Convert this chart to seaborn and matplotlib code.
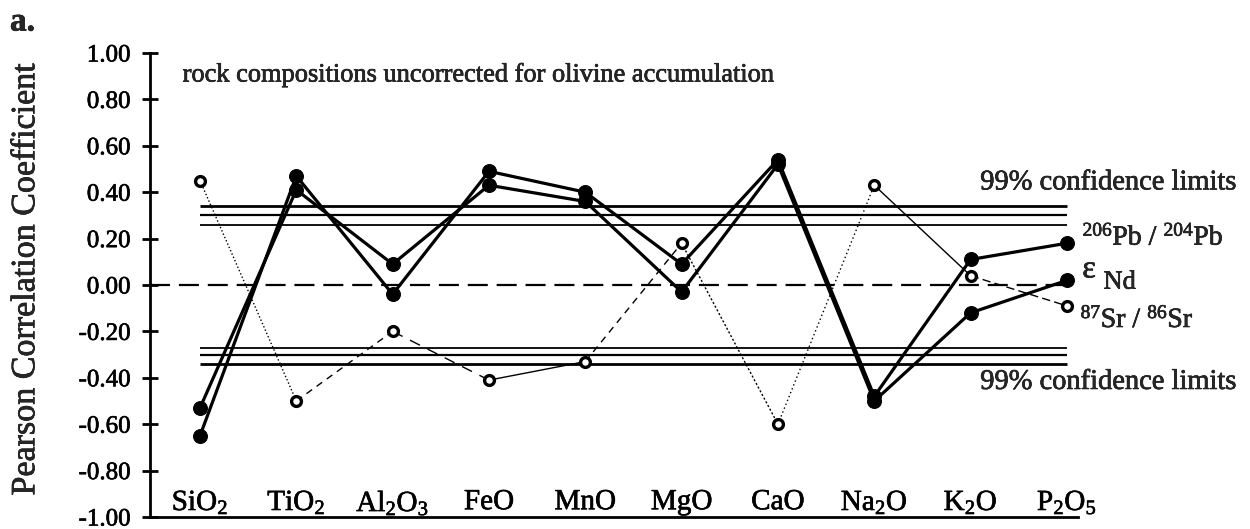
import matplotlib
matplotlib.use("Agg")
import matplotlib.pyplot as plt
import matplotlib.patheffects as pe
import seaborn as sns
import numpy as np

# Oxide categories along the x axis
oxides = ["SiO$_2$", "TiO$_2$", "Al$_2$O$_3$", "FeO", "MnO",
          "MgO", "CaO", "Na$_2$O", "K$_2$O", "P$_2$O$_5$"]

# Pearson correlation coefficients of each isotope ratio with the oxides
pb206_204 = [-0.65, 0.47, -0.04, 0.49, 0.40, 0.09, 0.54, -0.48, 0.11, 0.18]
eps_nd = [-0.53, 0.41, 0.09, 0.43, 0.36, -0.03, 0.52, -0.50, -0.12, 0.02]
sr87_86 = [0.45, -0.50, -0.20, -0.41, -0.33, 0.18, -0.60, 0.43, 0.04, -0.09]

# 99% confidence limits (three sample sizes)
conf_upper = [0.34, 0.30, 0.26]
conf_lower = [-0.27, -0.30, -0.34]

y_ticks = [1.0, 0.8, 0.6, 0.4, 0.2, 0.0, -0.2, -0.4, -0.6, -0.8, -1.0]

sns.set_theme(style="white")
plt.rcParams["font.family"] = ["Liberation Serif", "DejaVu Serif"]
plt.rcParams["mathtext.fontset"] = "custom"
plt.rcParams["mathtext.rm"] = "Liberation Serif"
plt.rcParams["mathtext.default"] = "regular"
plt.rcParams["axes.unicode_minus"] = False

# slightly heavier text strokes for a printed look
heavy = [pe.withStroke(linewidth=0.45, foreground="black")]

W, H = 1250, 529
fig = plt.figure(figsize=(W / 100, H / 100), dpi=100)
ax = fig.add_axes([150 / W, 1 - 517 / H, (1078 - 150) / W, (517 - 53) / H])

xpos = np.arange(len(oxides))
x_lo, x_hi = -0.519, 9.115
ax.set_xlim(x_lo, x_hi)
ax.set_ylim(-1.0, 1.0)

# confidence bands
for y, lw in zip(conf_upper, [2.0, 1.6, 1.3]):
    ax.hlines(y, xpos[0], xpos[-1], color="black", lw=lw, zorder=1)
for y, lw in zip(conf_lower, [1.3, 1.6, 2.0]):
    ax.hlines(y, xpos[0], xpos[-1], color="black", lw=lw, zorder=1)

# zero line
ax.axhline(0, xmin=0, xmax=(xpos[-1] - x_lo) / (x_hi - x_lo),
           color="black", lw=1.6, dashes=(9, 4), zorder=1)

# 87Sr/86Sr: thin segments drawn in mixed line styles
seg_styles = [(0, (1, 1.6)), (0, (5, 4)), (0, (8, 6)), "-", (0, (5, 4)),
              (0, (1.5, 1.5)), (0, (1, 2)), "-", (0, (6, 3))]
for i, ls in enumerate(seg_styles):
    ax.plot(xpos[i:i + 2], sr87_86[i:i + 2], color="black", lw=1.0,
            linestyle=ls, zorder=2)
sns.scatterplot(x=xpos, y=sr87_86, ax=ax, marker="o", s=50,
                facecolor="white", edgecolor="black", linewidth=2.4, zorder=5)

# 206Pb/204Pb and eNd: filled markers, heavy lines
for series in (pb206_204, eps_nd):
    sns.lineplot(x=xpos, y=series, ax=ax, sort=False, color="black",
                 linewidth=2.3, marker="o", markersize=10,
                 markeredgecolor="black", markerfacecolor="black", zorder=4)

# axes styling
for side in ("top", "right"):
    ax.spines[side].set_visible(False)
for side in ("left", "bottom"):
    ax.spines[side].set_linewidth(2.0)
    ax.spines[side].set_color("black")

ax.set_yticks(y_ticks)
ax.set_yticklabels([f"{v:.2f}" for v in y_ticks])
ax.tick_params(axis="y", direction="inout", length=12, width=2.0,
               pad=8, labelsize=18, colors="black", left=True)
ax.set_xticks(xpos)
ax.set_xticklabels(oxides)
ax.tick_params(axis="x", length=0, pad=-20, labelsize=21, colors="black")
for lab in ax.get_xticklabels() + ax.get_yticklabels():
    lab.set_path_effects(heavy)
ax.set_ylabel("")
ax.set_xlabel("")

# annotations
texts = [
    ax.text(-0.18, 0.905, "rock compositions uncorrected for olivine accumulation",
            fontsize=19, va="center", ha="left"),
    ax.text(8.10, 0.44, "99% confidence limits", fontsize=20.5,
            va="center", ha="left"),
    ax.text(8.10, -0.42, "99% confidence limits", fontsize=20.5,
            va="center", ha="left"),
    ax.text(xpos[-1] + 0.16, pb206_204[-1] + 0.025, "$^{206}$Pb / $^{204}$Pb",
            fontsize=20, va="center", ha="left"),
    ax.text(xpos[-1] + 0.16, eps_nd[-1] + 0.045, "\u03b5", fontsize=23,
            va="center", ha="left"),
    ax.text(xpos[-1] + 0.38, eps_nd[-1] - 0.01, "Nd", fontsize=19,
            va="center", ha="left"),
    ax.text(xpos[-1] + 0.14, sr87_86[-1] - 0.06, "$^{87}$Sr / $^{86}$Sr",
            fontsize=20, va="center", ha="left"),
    fig.text(10 / W, 1 - 22 / H, "a.", fontsize=24, fontweight="bold",
             va="center", ha="left"),
    fig.text(26 / W, 1 - 280 / H, "Pearson Correlation Coefficient",
             fontsize=24.5, rotation=90, va="center", ha="center"),
]
for t in texts:
    t.set_path_effects(heavy)

fig.savefig("out.png", dpi=100)
